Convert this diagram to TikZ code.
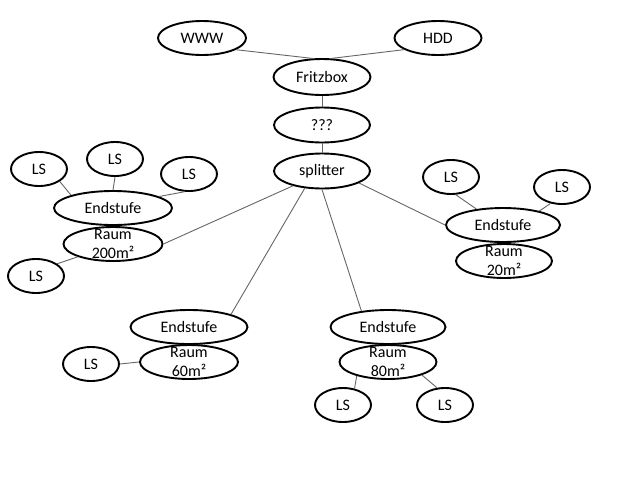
\documentclass[tikz,border=0pt]{standalone}
\usepackage{fontspec}
\setmainfont{Carlito}
\usetikzlibrary{shapes.geometric}
\begin{document}
\begin{tikzpicture}[x=1pt,y=-1pt,
  every node/.style={font=\fontsize{16}{18.5}\selectfont},
  oval/.style={draw=black,line width=1.9pt,ellipse,fill=white,inner sep=0pt,minimum width=#1,minimum height=34pt},
  oval/.default=96pt,
  lsbox/.style={oval=56pt},
  endbox/.style={oval=116pt},
  raumbox/.style={oval=97pt},
  rtext/.style={align=center,inner sep=0pt,font=\fontsize{16}{18.5}\selectfont},
  link/.style={draw=black!60,line width=0.9pt}]
\useasboundingbox[fill=white] (0,0) rectangle (640,480);

% top chain
\node[oval=88pt] (www) at (202,38) {WWW};
\node[oval=87pt] (hdd) at (438,38) {HDD};
\node[oval=97pt,minimum height=36pt] (fritz) at (322,77) {Fritzbox};
\node[oval=96pt,minimum height=35pt] (q) at (322,125) {???};
\node[oval=96pt,minimum height=35pt] (split) at (322,171) {splitter};

% left group
\node[lsbox] (ls1) at (39,169) {LS};
\node[lsbox] (ls2) at (115,159) {LS};
\node[lsbox] (ls3) at (189,174) {LS};
\node[endbox,minimum width=118pt] (endL) at (113,208) {Endstufe};
\node[raumbox,minimum width=99pt,label={[rtext]center:{Raum\\200m²}}] (raumL) at (113,244) {};
\node[lsbox] (ls4) at (36,276) {LS};

% right group
\node[lsbox] (ls5) at (451,177) {LS};
\node[lsbox] (ls6) at (562,187) {LS};
\node[endbox,minimum width=114pt] (endR) at (503,225) {Endstufe};
\node[raumbox,minimum width=96pt,label={[rtext]center:{Raum\\20m²}}] (raumR) at (504,261) {};

% bottom left group
\node[endbox,minimum width=117pt] (endBL) at (189,327) {Endstufe};
\node[raumbox,minimum width=98pt,label={[rtext]center:{Raum\\60m²}}] (raumBL) at (189,362) {};
\node[lsbox] (ls7) at (91,364) {LS};

% bottom right group
\node[endbox,minimum width=115pt] (endBR) at (388,327) {Endstufe};
\node[raumbox,label={[rtext]center:{Raum\\80m²}}] (raumBR) at (388,362) {};
\node[lsbox] (ls8) at (343,405) {LS};
\node[lsbox] (ls9) at (445,405) {LS};

% connectors
\draw[link] (www.-19) -- (fritz.117);
\draw[link] (hdd.-161) -- (fritz.63);
\draw[link] (fritz.south) -- (q.north);
\draw[link] (q.south) -- (split.north);
\draw[link] (split.-153) -- (raumL.east);
\draw[link] (split.-18) -- (endR.west);
\draw[link] (split.-135) -- (endBL.north east);
\draw[link] (split.south) -- (endBR.149);

\draw[link] (ls1.-31) -- (endL.163);
\draw[link] (ls2.south) -- (endL.north);
\draw[link] (ls3.-104) -- (endL.14);
\draw[link] (ls4.30) -- (raumL.-160);

\draw[link] (ls5.-75) -- (endR.149);
\draw[link] (ls6.-125) -- (endR.21);

\draw[link] (ls7.east) -- (raumBL.west);

\draw[link] (raumBR.-156) -- (ls8.55);
\draw[link] (raumBR.-21) -- (ls9.115);
\end{tikzpicture}
\end{document}
